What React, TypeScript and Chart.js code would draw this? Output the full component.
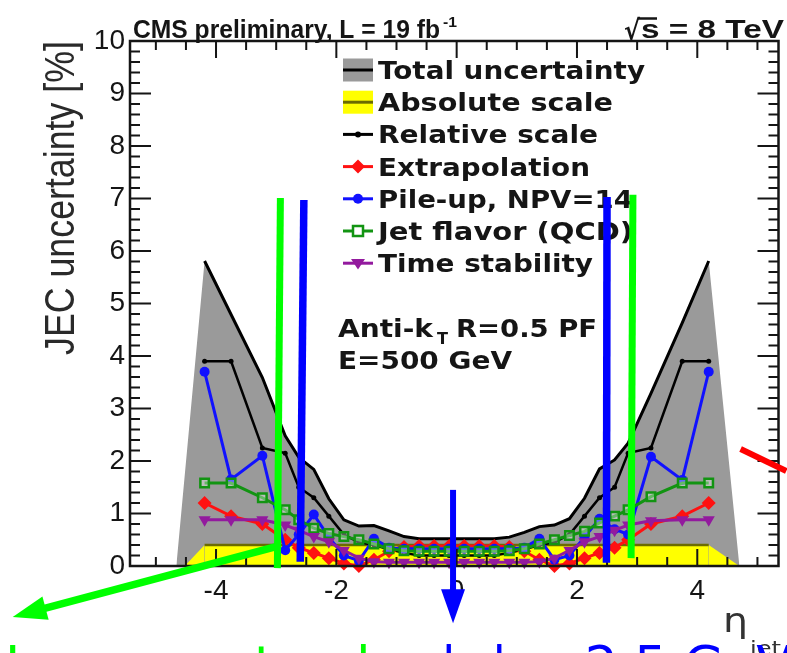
import React, { useEffect, useRef } from "react";
import { Chart, registerables } from "chart.js";

Chart.register(...registerables);

// ---------- data ----------
const etaBins = [-4.19, -3.75, -3.23, -2.85, -2.625, -2.375, -2.125, -1.875, -1.625, -1.375, -1.125, -0.875, -0.625, -0.375, -0.125, 0.125, 0.375, 0.625, 0.875, 1.125, 1.375, 1.625, 1.875, 2.125, 2.375, 2.625, 2.85, 3.23, 3.75, 4.19];
const totalUnc = [5.81, 4.79, 3.59, 2.48, 2.07, 1.84, 1.28, 0.88, 0.76, 0.77, 0.67, 0.56, 0.52, 0.52, 0.52, 0.52, 0.52, 0.52, 0.55, 0.64, 0.75, 0.78, 0.9, 1.29, 1.85, 2.02, 2.34, 3.29, 4.63, 5.81];
const absoluteScale = [0.4, 0.4, 0.4, 0.4, 0.4, 0.4, 0.4, 0.4, 0.4, 0.4, 0.4, 0.4, 0.4, 0.4, 0.4, 0.4, 0.4, 0.4, 0.4, 0.4, 0.4, 0.4, 0.4, 0.4, 0.4, 0.4, 0.4, 0.4, 0.4, 0.4];
const relativeScale = [3.9, 3.9, 2.25, 2.15, 1.5, 1.3, 0.95, 0.6, 0.45, 0.4, 0.32, 0.25, 0.2, 0.2, 0.2, 0.2, 0.2, 0.2, 0.25, 0.32, 0.4, 0.45, 0.6, 0.95, 1.3, 1.5, 2.15, 2.25, 3.9, 3.9];
const extrapolation = [1.2, 0.95, 0.8, 0.5, 0.35, 0.25, 0.15, 0.05, 0.0, 0.12, 0.28, 0.36, 0.38, 0.38, 0.38, 0.38, 0.38, 0.38, 0.36, 0.28, 0.12, 0.0, 0.05, 0.15, 0.25, 0.35, 0.5, 0.8, 0.95, 1.2];
const pileUp = [3.7, 1.65, 2.1, 0.3, 0.6, 0.98, 0.55, 0.2, 0.1, 0.52, 0.35, 0.33, 0.33, 0.33, 0.33, 0.33, 0.33, 0.33, 0.33, 0.35, 0.52, 0.12, 0.2, 0.55, 0.9, 0.7, 0.6, 2.08, 1.64, 3.7];
const jetFlavor = [1.58, 1.58, 1.3, 1.07, 0.88, 0.72, 0.62, 0.56, 0.5, 0.42, 0.33, 0.29, 0.28, 0.28, 0.28, 0.28, 0.28, 0.28, 0.29, 0.33, 0.42, 0.5, 0.58, 0.66, 0.82, 0.95, 1.07, 1.32, 1.58, 1.58];
const timeStability = [0.88, 0.88, 0.88, 0.78, 0.68, 0.56, 0.46, 0.3, 0.15, 0.08, 0.07, 0.07, 0.07, 0.07, 0.07, 0.07, 0.07, 0.07, 0.07, 0.07, 0.08, 0.15, 0.3, 0.46, 0.56, 0.68, 0.78, 0.86, 0.88, 0.88];
const totalBandEdges = [-4.66, 4.7];
const absoluteBandEdges = [-4.52, 4.7];

const xTickValues = [-4, -2, 0, 2, 4];
const yTickValues = [0, 1, 2, 3, 4, 5, 6, 7, 8, 9, 10];

const legendLabels = ["Total uncertainty", "Absolute scale", "Relative scale", "Extrapolation", "Pile-up, NPV=14", "Jet flavor (QCD)", "Time stability"];

// hand-drawn annotations, in (eta, %) coordinates
const annotationLines = [
  { color: "#00ff00", width: 7, from: [-2.93, 7.01], to: [-2.98, -0.04], arrow: false },
  { color: "#0000ff", width: 7.5, from: [-2.54, 6.97], to: [-2.6, 0.08], arrow: false },
  { color: "#0000ff", width: 7.5, from: [2.5, 7.03], to: [2.49, 0.06], arrow: false },
  { color: "#00ff00", width: 7, from: [2.93, 7.07], to: [2.9, 0.15], arrow: false },
  { color: "#0000ff", width: 6, from: [-0.06, 1.45], to: [-0.06, -1.09], arrow: true },
  { color: "#00ff00", width: 7.5, from: [-2.97, 0.38], to: [-7.38, -0.97], arrow: true },
  { color: "#ff0000", width: 6, from: [4.72, 2.23], to: [5.48, 1.81], arrow: false },
];

const COL = {
  gray: "#9a9a9a",
  yellow: "#ffff00",
  olive: "#6b6b00",
  red: "#ff1111",
  blue: "#1111ff",
  green: "#129412",
  purple: "#931a9e",
  text: "#151515",
};

const pts = (vals: number[]) => etaBins.map((x, i) => ({ x, y: vals[i] }));

function fitText(ctx: CanvasRenderingContext2D, text: string, x: number, y: number, font: string, color: string, width?: number) {
  ctx.save();
  ctx.font = font;
  ctx.fillStyle = color;
  ctx.textBaseline = "alphabetic";
  ctx.textAlign = "left";
  const w = ctx.measureText(text).width;
  const s = width ? width / w : 1;
  ctx.translate(x, y);
  ctx.scale(s, 1);
  ctx.fillText(text, 0, 0);
  ctx.restore();
}

function drawMarker(ctx: CanvasRenderingContext2D, kind: string, x: number, y: number, color: string) {
  ctx.save();
  ctx.fillStyle = color;
  ctx.strokeStyle = color;
  ctx.beginPath();
  if (kind === "diamond") {
    const r = 7;
    ctx.moveTo(x, y - r); ctx.lineTo(x + r, y); ctx.lineTo(x, y + r); ctx.lineTo(x - r, y); ctx.closePath(); ctx.fill();
  } else if (kind === "circle") {
    ctx.arc(x, y, 5, 0, Math.PI * 2); ctx.fill();
  } else if (kind === "square") {
    ctx.lineWidth = 2.5; ctx.rect(x - 5, y - 5, 10, 10); ctx.fillStyle = "#ffffff"; ctx.fill(); ctx.stroke();
  } else if (kind === "tri") {
    const r = 7;
    ctx.moveTo(x - r, y - r * 0.6); ctx.lineTo(x + r, y - r * 0.6); ctx.lineTo(x, y + r * 0.9); ctx.closePath(); ctx.fill();
  } else if (kind === "dot") {
    ctx.arc(x, y, 3, 0, Math.PI * 2); ctx.fill();
  }
  ctx.restore();
}

const decorPlugin = {
  id: "cmsDecor",
  afterDatasetsDraw(chart: any) {
    const ctx: CanvasRenderingContext2D = chart.ctx;
    const xs = chart.scales.x;
    const ys = chart.scales.y;
    const { left, right, top, bottom } = chart.chartArea;
    ctx.save();
    // ticks
    ctx.strokeStyle = COL.text;
    ctx.lineWidth = 2;
    ctx.beginPath();
    for (let i = -10; i <= 10; i++) {
      const v = i / 2;
      const px = xs.getPixelForValue(v);
      if (px <= left + 1 || px >= right - 1) continue;
      const len = i % 4 === 0 ? 17 : 9;
      ctx.moveTo(px, bottom); ctx.lineTo(px, bottom - len);
      ctx.moveTo(px, top); ctx.lineTo(px, top + len);
    }
    for (let i = 0; i <= 50; i++) {
      const v = i / 5;
      const py = ys.getPixelForValue(v);
      const len = i % 5 === 0 ? 21 : 10;
      ctx.moveTo(left, py); ctx.lineTo(left + len, py);
      ctx.moveTo(right, py); ctx.lineTo(right - len, py);
    }
    ctx.stroke();
    // frame
    ctx.lineWidth = 2.5;
    ctx.strokeRect(left, top, right - left, bottom - top);
    ctx.restore();

    // top texts
    fitText(ctx, "CMS preliminary, L = 19 fb", 133, 38, 'bold 26px "Liberation Sans"', COL.text, 307);
    fitText(ctx, "-1", 443, 27, 'bold 15px "Liberation Sans"', COL.text, 14);
    fitText(ctx, "\u221A", 624, 40, 'bold 28px "DejaVu Sans"', COL.text, 16);
    ctx.save();
    ctx.strokeStyle = COL.text; ctx.lineWidth = 2.5;
    ctx.beginPath(); ctx.moveTo(638, 18.5); ctx.lineTo(657, 18.5); ctx.stroke();
    ctx.restore();
    fitText(ctx, "s = 8 TeV", 641, 38, 'bold 26px "Liberation Sans"', COL.text, 143);

    // legend
    const legendWidths = [267, 235, 220, 212, 255, 255, 215];
    const lx0 = 343, lx1 = 373, lxc = 358;
    legendLabels.forEach((lab, i) => {
      const base = 79 + 32.2 * i;
      const my = base - 9;
      fitText(ctx, lab, 378, base, 'bold 25px "DejaVu Sans"', COL.text, legendWidths[i]);
      ctx.save();
      if (i === 0 || i === 1) {
        ctx.fillStyle = i === 0 ? COL.gray : COL.yellow;
        ctx.fillRect(lx0, my - 11.5, lx1 - lx0, 23);
        ctx.strokeStyle = i === 0 ? "#000" : COL.olive;
        ctx.lineWidth = 3;
        ctx.beginPath(); ctx.moveTo(lx0, my); ctx.lineTo(lx1, my); ctx.stroke();
      } else {
        const c = [null, null, "#000", COL.red, COL.blue, COL.green, COL.purple][i] as string;
        ctx.strokeStyle = c; ctx.lineWidth = 3;
        ctx.beginPath(); ctx.moveTo(lx0, my); ctx.lineTo(lx1, my); ctx.stroke();
        const kind = ["", "", "dot", "diamond", "circle", "square", "tri"][i];
        drawMarker(ctx, kind, lxc, my, c);
      }
      ctx.restore();
    });

    // jet algorithm text
    fitText(ctx, "Anti-k", 338, 337, 'bold 25px "DejaVu Sans"', COL.text, 95);
    fitText(ctx, "T", 437, 344, 'bold 15px "DejaVu Sans"', COL.text, 11);
    fitText(ctx, "R=0.5 PF", 456, 337, 'bold 25px "DejaVu Sans"', COL.text, 141);
    fitText(ctx, "E=500 GeV", 338, 369, 'bold 25px "DejaVu Sans"', COL.text, 174);

    // y-axis title (rotated)
    ctx.save();
    ctx.translate(74, 355);
    ctx.rotate(-Math.PI / 2);
    fitText(ctx, "JEC uncertainty [%]", 0, 0, '42px "Liberation Sans"', "#2a2a2a", 314);
    ctx.restore();

    // x-axis title
    fitText(ctx, "\u03B7", 723, 632, '34px "DejaVu Sans"', "#333", 25);
    fitText(ctx, "jet", 750, 655, '20px "DejaVu Sans"', "#333", 31);
  },
  afterDraw(chart: any) {
    const ctx: CanvasRenderingContext2D = chart.ctx;
    const xs = chart.scales.x;
    const ys = chart.scales.y;
    ctx.save();
    ctx.lineCap = "butt";
    annotationLines.forEach((a) => {
      const x0 = xs.getPixelForValue(a.from[0]);
      const y0 = ys.getPixelForValue(a.from[1]);
      const x1 = xs.getPixelForValue(a.to[0]);
      const y1 = ys.getPixelForValue(a.to[1]);
      ctx.strokeStyle = a.color;
      ctx.fillStyle = a.color;
      ctx.lineWidth = a.width;
      const ang = Math.atan2(y1 - y0, x1 - x0);
      const headLen = a.arrow ? 34 : 0;
      const ex = x1 - Math.cos(ang) * headLen * 0.8;
      const ey = y1 - Math.sin(ang) * headLen * 0.8;
      ctx.beginPath(); ctx.moveTo(x0, y0); ctx.lineTo(a.arrow ? ex : x1, a.arrow ? ey : y1); ctx.stroke();
      if (a.arrow) {
        const hw = 12;
        const bx = x1 - Math.cos(ang) * headLen;
        const by = y1 - Math.sin(ang) * headLen;
        ctx.beginPath();
        ctx.moveTo(x1, y1);
        ctx.lineTo(bx + Math.sin(ang) * hw, by - Math.cos(ang) * hw);
        ctx.lineTo(bx - Math.sin(ang) * hw, by + Math.cos(ang) * hw);
        ctx.closePath();
        ctx.fill();
      }
    });
    ctx.restore();
    fitText(ctx, "Inner: no tracker", 5, 683, '52px "DejaVu Sans"', "#00ff00");
    fitText(ctx, "|\u03B7| < 2.5 GeV", 440, 683, '52px "DejaVu Sans"', "#0000ff");
  },
};

export default function App() {
  const canvasRef = useRef<HTMLCanvasElement | null>(null);

  useEffect(() => {
    const canvas = canvasRef.current;
    if (!canvas) return;
    const n = totalBandEdges.length;
    const grayData = [{ x: totalBandEdges[0], y: 0 }, ...pts(totalUnc), { x: totalBandEdges[n - 1], y: 0 }];
    const yellowData = [{ x: absoluteBandEdges[0], y: 0 }, ...pts(absoluteScale), { x: absoluteBandEdges[1], y: 0 }];
    const lastYellow = yellowData.length - 1;

    const chart = new Chart(canvas, {
      type: "line",
      data: {
        datasets: [
          {
            label: "Total band", data: grayData, order: 10, fill: "origin", backgroundColor: COL.gray,
            borderWidth: 0, borderColor: "rgba(0,0,0,0)", pointRadius: 0, tension: 0,
          },
          {
            label: "Absolute scale", data: yellowData, order: 9, fill: "origin", backgroundColor: COL.yellow,
            borderWidth: 2.5, borderColor: COL.olive, pointRadius: 0, tension: 0,
            segment: {
              borderColor: (c: any) => (c.p0DataIndex === 0 || c.p1DataIndex === lastYellow ? "rgba(0,0,0,0)" : COL.olive),
            },
          },
          {
            label: "Total uncertainty", data: pts(totalUnc), order: 8, fill: false, borderColor: "#000",
            borderWidth: 3, pointRadius: 0, tension: 0,
          },
          {
            label: "Relative scale", data: pts(relativeScale), order: 7, fill: false, borderColor: "#000",
            borderWidth: 2.5, pointRadius: 2.5, pointBackgroundColor: "#000", pointBorderWidth: 0, tension: 0, clip: false,
          },
          {
            label: "Extrapolation", data: pts(extrapolation), order: 6, fill: false, borderColor: COL.red,
            borderWidth: 3, pointStyle: "rectRot", pointRadius: 7, pointBackgroundColor: COL.red, pointBorderColor: COL.red,
            pointBorderWidth: 0, tension: 0, clip: false,
          },
          {
            label: "Pile-up", data: pts(pileUp), order: 5, fill: false, borderColor: COL.blue,
            borderWidth: 3, pointStyle: "circle", pointRadius: 5, pointBackgroundColor: COL.blue, pointBorderColor: COL.blue,
            pointBorderWidth: 0, tension: 0, clip: false,
          },
          {
            label: "Jet flavor", data: pts(jetFlavor), order: 4, fill: false, borderColor: COL.green,
            borderWidth: 3, pointStyle: "rect", pointRadius: 6, pointBackgroundColor: "rgba(255,255,255,0.35)",
            pointBorderColor: COL.green, pointBorderWidth: 2.5, tension: 0, clip: false,
          },
          {
            label: "Time stability", data: pts(timeStability), order: 3, fill: false, borderColor: COL.purple,
            borderWidth: 3, pointStyle: "triangle", pointRotation: 180, pointRadius: 7, pointBackgroundColor: COL.purple,
            pointBorderColor: COL.purple, pointBorderWidth: 0, tension: 0, clip: false,
          },
        ] as any,
      },
      options: {
        animation: false,
        responsive: false,
        devicePixelRatio: 1,
        events: [],
        layout: { padding: { top: 41, right: 5, left: 0, bottom: 0 } },
        plugins: { legend: { display: false }, tooltip: { enabled: false }, title: { display: false } },
        scales: {
          x: {
            type: "linear",
            min: -5.43,
            max: 5.35,
            grid: { display: false, drawTicks: false },
            border: { display: false },
            afterBuildTicks: (s: any) => { s.ticks = xTickValues.map((v) => ({ value: v })); },
            afterFit: (s: any) => { s.height = 87; },
            ticks: {
              autoSkip: false, maxRotation: 0, padding: 8, color: COL.text,
              font: { family: '"Liberation Sans"', size: 28 },
              callback: (v: any) => String(v),
            },
          },
          y: {
            type: "linear",
            min: 0,
            max: 10,
            grid: { display: false, drawTicks: false },
            border: { display: false },
            afterBuildTicks: (s: any) => { s.ticks = yTickValues.map((v) => ({ value: v })); },
            afterFit: (s: any) => { s.width = 130; },
            ticks: {
              autoSkip: false, padding: 5, color: COL.text,
              font: { family: '"Liberation Sans"', size: 28 },
              callback: (v: any) => String(v),
            },
          },
        },
      } as any,
      plugins: [decorPlugin],
    });
    return () => chart.destroy();
  }, []);

  return (
    <div style={{ position: "absolute", left: 0, top: 0, width: 787, height: 653, overflow: "hidden", background: "#fff" }}>
      <canvas ref={canvasRef} width={787} height={653} style={{ display: "block" }} />
    </div>
  );
}
